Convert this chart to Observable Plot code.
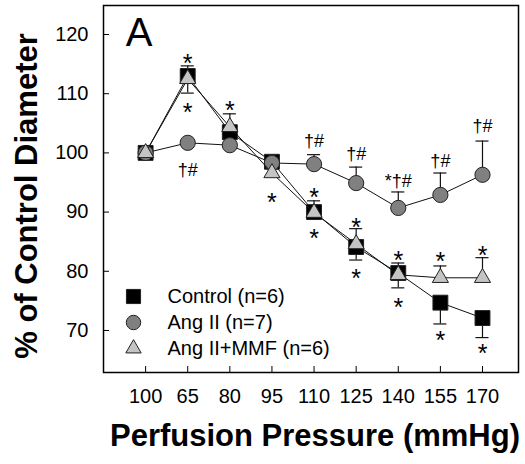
<!DOCTYPE html>
<html><head><meta charset="utf-8">
<script src="https://cdn.jsdelivr.net/npm/d3@7"></script>
<script src="https://cdn.jsdelivr.net/npm/@observablehq/plot@0.6"></script>
<style>body{margin:0;background:#fff}</style>
</head><body><div id="chart"></div>
<script>
// Perfusion pressure steps (category order as shown)
const pressures = ["100", "65", "80", "95", "110", "125", "140", "155", "170"];
// % of control diameter (means)
const control = [100, 113, 103.5, 98.5, 90, 84.1, 79.7, 74.7, 72.1];
const angII   = [100, 101.7, 101.3, 98.3, 98.1, 94.9, 90.7, 92.9, 96.3];
const angMMF  = [100, 112.5, 104.4, 96.6, 89.9, 84.6, 79.4, 78.9, 78.9];
// error-bar end values (one-sided, as drawn); null = not visible
const controlErrEnd = [null, 114.7, 106.6, null, 91.9, 81.9, 81.4, 71.1, 68.8];
const angIIErrEnd   = [null, null, null, null, 99.7, 97.6, 93.4, 96.6, 102.0];
const angMMFErrEnd  = [null, 110.1, null, null, null, 87.2, 77.2, 80.9, 82.3];
const yTicks = [70, 80, 90, 100, 110, 120];
// significance annotations
const annX    = [1, 1, 1, 2, 3, 4, 4, 4, 5, 5, 5, 6, 6, 6, 7, 7, 7, 8, 8, 8];
const annY    = [116.0, 107.8, 97.3, 108.1, 92.6, 102.2, 93.4, 86.5, 100.0, 88.3, 79.7, 95.4, 82.8, 74.8, 98.8, 82.6, 69.3, 104.6, 83.6, 67.1];
const annText = ["*", "*", "†#", "*", "*", "†#", "*", "*", "†#", "*", "*", "*†#", "*", "*", "†#", "*", "*", "†#", "*", "*"];
const seriesNames = ["Control (n=6)", "Ang II (n=7)", "Ang II+MMF (n=6)"];

const FONT = "'Liberation Sans', Arial, Helvetica, sans-serif";

const series = [
  {name: seriesNames[0], values: control, errs: controlErrEnd, symbol: "square", r: 8.4, fill: "#000000"},
  {name: seriesNames[1], values: angII, errs: angIIErrEnd, symbol: "circle", r: 7.6, fill: "#808080"},
  {name: seriesNames[2], values: angMMF, errs: angMMFErrEnd, symbol: "triangle", r: 6.0, fill: "#c4c4c4"}
];

const xIdx = pressures.map((_, i) => i);
const marks = [];

for (const s of series) {
  const pts = s.values.map((v, i) => ({i, v}));
  const errs = s.errs.map((e, i) => ({i, v: s.values[i], e})).filter(d => d.e != null);
  marks.push(
    Plot.ruleX(errs, {x: "i", y1: "v", y2: "e", stroke: "#111", strokeWidth: 1.2}),
    Plot.ruleY(errs, {y: "e", x1: d => d.i - 0.155, x2: d => d.i + 0.155, stroke: "#111", strokeWidth: 1.2}),
    Plot.line(pts, {x: "i", y: "v", stroke: "#111", strokeWidth: 1}),
    Plot.dot(pts, {x: "i", y: "v", symbol: s.symbol, r: s.r, fill: s.fill, stroke: "#222", strokeWidth: 1})
  );
}

const ann = annText.map((t, k) => ({x: annX[k], y: annY[k], t}));
marks.push(
  Plot.text(ann.filter(d => d.t === "*"), {x: "x", y: "y", text: "t", fontSize: 25, dy: 6, lineAnchor: "middle", fill: "#000"}),
  Plot.text(ann.filter(d => d.t !== "*"), {x: "x", y: "y", text: "t", fontSize: 18, dy: 1, lineAnchor: "middle", fill: "#000"})
);

// legend inside the frame, bottom-left
series.forEach((s, i) => {
  const dy = -76 + i * 26;
  marks.push(
    Plot.dot([s.name], {frameAnchor: "bottom-left", dx: 30, dy, symbol: s.symbol, r: s.r * 0.95, fill: s.fill, stroke: "#222", strokeWidth: 1}),
    Plot.text([s.name], {frameAnchor: "bottom-left", dx: 64, dy, text: d => d, textAnchor: "start", lineAnchor: "middle", fontSize: 20, fill: "#000"})
  );
});

// panel letter
marks.push(Plot.text(["A"], {frameAnchor: "top-left", dx: 35.5, dy: 12, text: d => d, lineAnchor: "top", textAnchor: "middle", fontSize: 40, fill: "#000"}));

// axes: inward ticks + labels
marks.push(
  Plot.axisY(yTicks, {tickSize: 6, insetLeft: 6, fill: "none", label: null}),
  Plot.axisY(yTicks, {tickSize: 0, tickPadding: 15, fontSize: 20, label: null}),
  Plot.axisX(xIdx, {tickSize: 6, insetBottom: 6, fill: "none", label: null}),
  Plot.axisX(xIdx, {tickSize: 0, tickPadding: 16, fontSize: 20, tickFormat: i => pressures[i], label: null}),
  Plot.frame({stroke: "#000", strokeWidth: 1.5}),
  Plot.text(["% of Control Diameter"], {frameAnchor: "middle", dx: -283.5, dy: 7, rotate: -90, text: d => d, textAnchor: "middle", lineAnchor: "middle", fontSize: 31, fontWeight: "bold", fill: "#000"}),
  Plot.text(["Perfusion Pressure (mmHg)"], {frameAnchor: "bottom", dx: 4, dy: 64, text: d => d, textAnchor: "middle", lineAnchor: "middle", fontSize: 31, fontWeight: "bold", fill: "#000"})
);

const chart = Plot.plot({
  width: 525,
  height: 464,
  marginLeft: 103,
  marginRight: 7,
  marginTop: 5,
  marginBottom: 92,
  x: {domain: [-1, 8.855]},
  y: {domain: [62.9, 124.9]},
  style: {fontFamily: FONT, fontSize: "20px", background: "#fff", color: "#000"},
  marks
});
document.getElementById("chart").appendChild(chart);
</script>
</body></html>
